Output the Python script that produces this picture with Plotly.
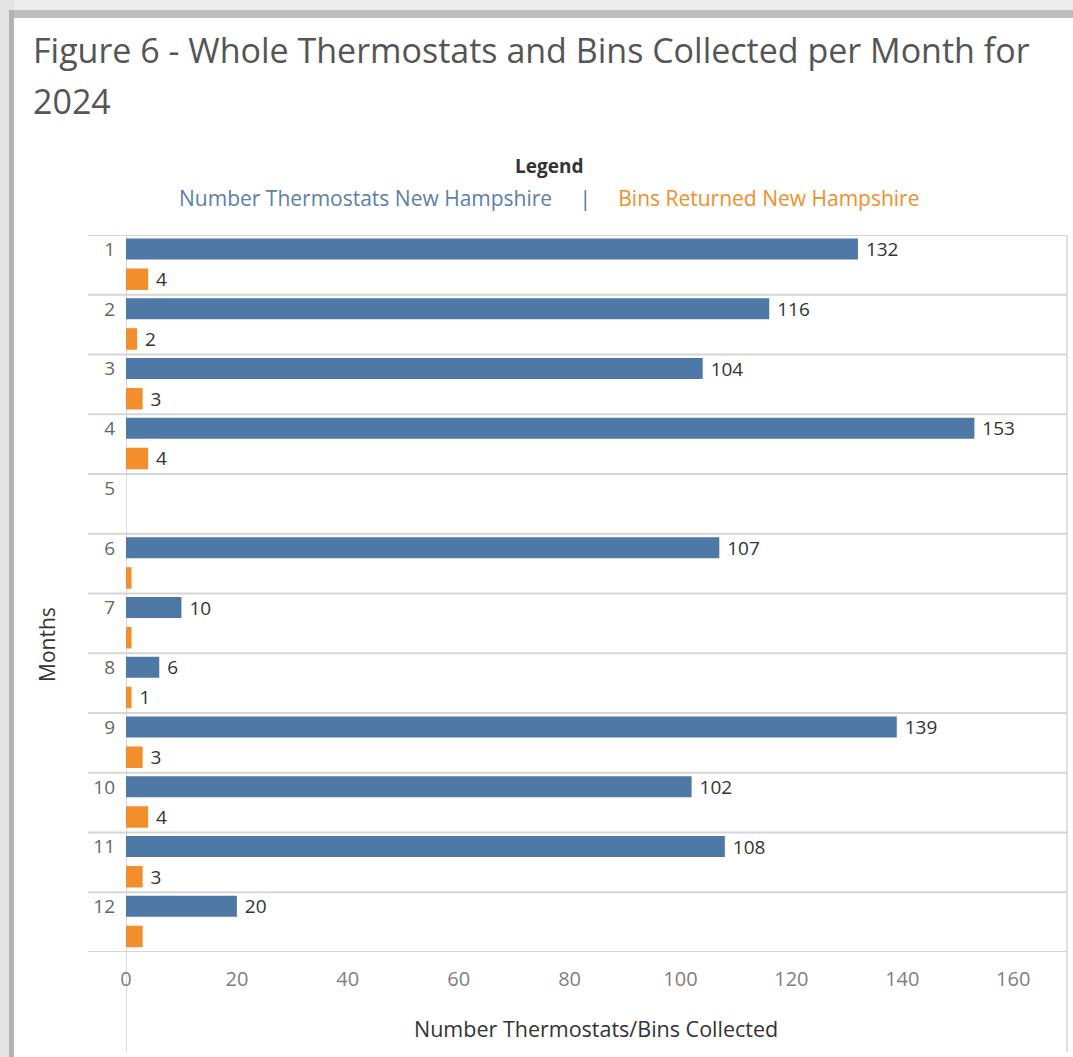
import plotly.graph_objects as go

# ---- data ----
months = [1, 2, 3, 4, 5, 6, 7, 8, 9, 10, 11, 12]
thermostats = [132, 116, 104, 153, None, 107, 10, 6, 139, 102, 108, 20]
bins = [4, 2, 3, 4, None, 1, 1, 1, 3, 4, 3, 3]
bins_label_shown = [True, True, True, True, False, False, False, True, True, True, True, False]
x_ticks = [0, 20, 40, 60, 80, 100, 120, 140, 160]

title_line1 = "Figure 6 - Whole Thermostats and Bins Collected per Month for"
title_line2 = "2024"
legend_title = "Legend"
series1_name = "Number Thermostats New Hampshire"
series2_name = "Bins Returned New Hampshire"
x_title = "Number Thermostats/Bins Collected"
y_title = "Months"

BLUE = "#4e79a7"
ORANGE = "#f28e2b"
FONT = "'Open Sans', Lato, sans-serif"
NB = "\u00a0"

# ---- geometry (pixels) ----
W, H = 1073, 1057
L, R, T, B = 126, 1067, 235, 952


def px(xp):
    return (xp - L) / (R - L)


def py(yp):
    return (B - yp) / (B - T)


therm_text = ["" if v is None else NB + str(v) for v in thermostats]
bins_text = [NB + str(v) if (v is not None and s) else "" for v, s in zip(bins, bins_label_shown)]

fig = go.Figure()
fig.add_trace(go.Bar(
    y=months, x=thermostats, orientation="h", name=series1_name,
    marker=dict(color=BLUE, line=dict(width=0)),
    offset=-0.44, width=0.35,
    text=therm_text, textposition="outside", cliponaxis=False, constraintext="none",
    textfont=dict(family=FONT, size=19, color="#333333"),
    hoverinfo="x+y",
))
fig.add_trace(go.Bar(
    y=months, x=bins, orientation="h", name=series2_name,
    marker=dict(color=ORANGE, line=dict(width=0)),
    offset=0.06, width=0.36,
    text=bins_text, textposition="outside", cliponaxis=False, constraintext="none",
    textfont=dict(family=FONT, size=19, color="#333333"),
    hoverinfo="x+y",
))

shapes = []
# frame shadow
shapes.append(dict(type="rect", xref="paper", yref="paper", x0=px(0), x1=px(W), y0=py(0), y1=py(18),
                   fillcolor="#ececec", line=dict(width=0), layer="below"))
shapes.append(dict(type="rect", xref="paper", yref="paper", x0=px(8), x1=px(W), y0=py(10), y1=py(18),
                   fillcolor="#bdbdbd", line=dict(width=0), layer="below"))
shapes.append(dict(type="rect", xref="paper", yref="paper", x0=px(0), x1=px(14), y0=py(H), y1=py(0),
                   fillcolor="#e4e4e4", line=dict(width=0), layer="below"))
shapes.append(dict(type="rect", xref="paper", yref="paper", x0=px(9), x1=px(14), y0=py(H), y1=py(10),
                   fillcolor="#b3b3b3", line=dict(width=0), layer="below"))
# row dividers
for m in range(0, len(months) + 1):
    shapes.append(dict(type="line", xref="paper", yref="y", x0=px(88), x1=1, y0=m + 0.5, y1=m + 0.5,
                       line=dict(color="#d6d6d6", width=2), layer="below"))
# zero line and right border extended downwards
shapes.append(dict(type="line", xref="x", yref="paper", x0=0, x1=0, y0=py(1052), y1=1,
                   line=dict(color="#cfcfcf", width=1.5), layer="below"))
shapes.append(dict(type="line", xref="paper", yref="paper", x0=1, x1=1, y0=py(1052), y1=1,
                   line=dict(color="#d6d6d6", width=1.5), layer="below"))

sep = NB * 5
annotations = [
    dict(text=title_line1, xref="paper", yref="paper", x=px(31), y=py(50), xanchor="left", yanchor="middle",
         showarrow=False, font=dict(family=FONT, size=34, color="#555555")),
    dict(text=title_line2, xref="paper", yref="paper", x=px(31), y=py(101), xanchor="left", yanchor="middle",
         showarrow=False, font=dict(family=FONT, size=34, color="#555555")),
    dict(text="<b>" + legend_title + "</b>", xref="paper", yref="paper", x=px(549), y=py(166),
         xanchor="center", yanchor="middle", showarrow=False,
         font=dict(family=FONT, size=19, color="#333333")),
    dict(text=("<span style='color:%s'>%s</span>%s<span style='color:%s'>|</span>%s"
               "<span style='color:%s'>%s</span>") % ("#5b80ab", series1_name, sep, BLUE, sep, ORANGE, series2_name),
         xref="paper", yref="paper", x=px(549), y=py(198), xanchor="center", yanchor="middle",
         showarrow=False, font=dict(family=FONT, size=21)),
    dict(text=x_title, xref="paper", yref="paper", x=px(596), y=py(1028), xanchor="center", yanchor="middle",
         showarrow=False, font=dict(family=FONT, size=21.5, color="#333333")),
    dict(text=y_title, xref="paper", yref="paper", x=px(47), y=py(645), xanchor="center", yanchor="middle",
         textangle=-90, showarrow=False, font=dict(family=FONT, size=21, color="#333333")),
]

fig.update_layout(
    width=W, height=H,
    margin=dict(l=L, r=W - R, t=T, b=H - B, pad=0),
    paper_bgcolor="white", plot_bgcolor="white",
    barmode="overlay", showlegend=False,
    shapes=shapes, annotations=annotations,
    font=dict(family=FONT),
)
fig.update_xaxes(
    range=[0, 169.7], tickvals=x_ticks, ticktext=[str(v) for v in x_ticks],
    showgrid=False, zeroline=False, showline=False, ticks="",
    tickfont=dict(family=FONT, size=20, color="#808080"), ticklabelstandoff=13,
)
fig.update_yaxes(
    range=[12.5, 0.5], tickvals=[m - 0.26 for m in months], ticktext=[str(m) for m in months],
    showgrid=False, zeroline=False, showline=False, ticks="",
    tickfont=dict(family=FONT, size=19, color="#666666"), ticklabelstandoff=10,
)

fig.write_html("out.html", config={"displayModeBar": False},
               post_script="document.body.style.margin='0px';")
